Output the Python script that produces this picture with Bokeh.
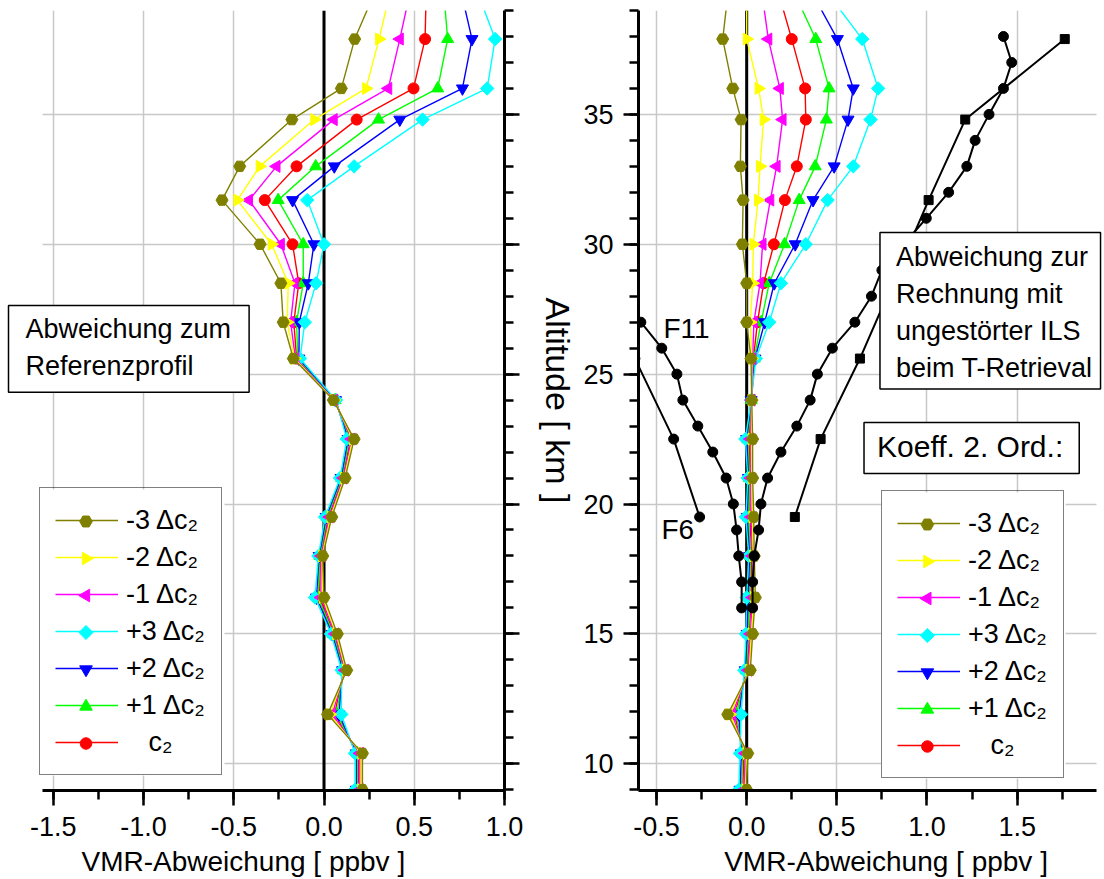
from bokeh.plotting import figure
from bokeh.layouts import row
from bokeh.models import (Range1d, Span, Label, Legend, LegendItem,
                          SingleIntervalTicker, NumeralTickFormatter)
from bokeh.embed import file_html
from bokeh.resources import INLINE

FONT = "Liberation Sans"

# ---------------- data ----------------
altitude = [40.0, 37.9, 36.0, 34.8, 33.0, 31.7, 30.0, 28.5, 27.0, 25.6, 24.0,
            22.5, 21.0, 19.5, 18.0, 16.4, 15.0, 13.6, 11.9, 10.4, 9.0]

# left panel: deviation from reference profile
left_m3 = [0.300, 0.170, 0.096, -0.178, -0.467, -0.565, -0.354, -0.239, -0.226, -0.170, 0.052,
           0.167, 0.117, 0.043, -0.007, 0.000, 0.074, 0.126, 0.020, 0.213, 0.213]
left_m2 = [0.377, 0.305, 0.233, -0.054, -0.356, -0.480, -0.290, -0.198, -0.204, -0.164, 0.055,
           0.160, 0.112, 0.037, -0.011, -0.008, 0.068, 0.121, 0.033, 0.206, 0.206]
left_m1 = [0.486, 0.420, 0.356, 0.054, -0.263, -0.415, -0.239, -0.161, -0.185, -0.158, 0.057,
           0.153, 0.107, 0.031, -0.015, -0.017, 0.062, 0.116, 0.046, 0.199, 0.199]
left_c2 = [0.567, 0.560, 0.496, 0.181, -0.152, -0.328, -0.174, -0.140, -0.167, -0.152, 0.060,
           0.147, 0.103, 0.025, -0.019, -0.025, 0.056, 0.112, 0.058, 0.192, 0.192]
left_p1 = [0.660, 0.685, 0.630, 0.302, -0.046, -0.254, -0.115, -0.115, -0.152, -0.145, 0.062,
           0.140, 0.098, 0.018, -0.023, -0.033, 0.051, 0.107, 0.071, 0.185, 0.185]
left_p2 = [0.750, 0.820, 0.767, 0.420, 0.057, -0.174, -0.056, -0.087, -0.137, -0.139, 0.064,
           0.133, 0.094, 0.012, -0.027, -0.042, 0.045, 0.103, 0.083, 0.179, 0.179]
left_p3 = [0.835, 0.948, 0.904, 0.546, 0.167, -0.093, 0.000, -0.044, -0.106, -0.133, 0.067,
           0.126, 0.089, 0.006, -0.031, -0.050, 0.039, 0.098, 0.096, 0.172, 0.172]

# right panel: deviation from calculation with undisturbed ILS
right_m3 = [-0.098, -0.133, -0.077, -0.031, -0.035, -0.020, -0.024, 0.000, 0.000, 0.024, 0.028,
            0.033, 0.033, 0.039, 0.042, 0.048, 0.033, 0.020, -0.105, 0.006, 0.000]
right_m2 = [0.000, 0.000, 0.066, 0.094, 0.074, 0.063, 0.037, 0.033, 0.020, 0.029, 0.027,
            0.027, 0.028, 0.032, 0.037, 0.040, 0.027, 0.014, -0.093, -0.001, -0.007]
right_m1 = [0.078, 0.120, 0.184, 0.199, 0.166, 0.131, 0.088, 0.074, 0.040, 0.033, 0.027,
            0.020, 0.023, 0.025, 0.032, 0.032, 0.021, 0.009, -0.080, -0.008, -0.015]
right_c2 = [0.163, 0.250, 0.324, 0.328, 0.278, 0.212, 0.151, 0.094, 0.060, 0.037, 0.026,
            0.013, 0.019, 0.018, 0.027, 0.024, 0.015, 0.003, -0.068, -0.015, -0.022]
right_p1 = [0.243, 0.383, 0.457, 0.442, 0.380, 0.291, 0.210, 0.125, 0.080, 0.042, 0.026,
            0.006, 0.015, 0.010, 0.021, 0.016, 0.009, -0.002, -0.056, -0.023, -0.029]
right_p2 = [0.337, 0.503, 0.591, 0.562, 0.485, 0.368, 0.269, 0.153, 0.100, 0.046, 0.025,
            0.000, 0.010, 0.003, 0.016, 0.008, 0.002, -0.008, -0.043, -0.030, -0.037]
right_p3 = [0.412, 0.641, 0.729, 0.687, 0.591, 0.449, 0.328, 0.190, 0.125, 0.051, 0.025,
            -0.007, 0.006, -0.004, 0.011, 0.000, -0.004, -0.013, -0.031, -0.037, -0.044]

# black reference curves (right panel)
f11_alt = [27, 26, 25, 24, 23, 22, 21, 20, 19, 18, 17, 16]
f11_vmr = [-0.587, -0.471, -0.387, -0.354, -0.271, -0.188, -0.114, -0.074, -0.056, -0.044, -0.028, -0.028]
upper_alt = [16, 17, 18, 19, 20, 21, 22, 23, 24, 25, 26, 27, 28, 29, 30, 31, 32, 33, 34, 35, 36, 37, 38]
upper_vmr = [0.033, 0.033, 0.042, 0.066, 0.079, 0.116, 0.190, 0.278, 0.352, 0.392, 0.475, 0.600,
             0.692, 0.750, 0.870, 0.996, 1.120, 1.221, 1.267, 1.344, 1.424, 1.470, 1.424]
f6_alt = [25.6, 22.5, 19.5]
f6_vmr = [-0.620, -0.405, -0.261]
sq_alt = [37.9, 34.8, 31.7, 28.5, 25.6, 22.5, 19.5]
sq_vmr = [1.764, 1.212, 1.009, 0.810, 0.628, 0.410, 0.267]

labels = ["-3 \u0394c\u2082", "-2 \u0394c\u2082", "-1 \u0394c\u2082", "+3 \u0394c\u2082",
          "+2 \u0394c\u2082", "+1 \u0394c\u2082", "\u00a0\u00a0\u00a0c\u2082"]
colors = ["#808000", "#ffff00", "#ff00ff", "#00ffff", "#0000ff", "#00ff00", "#ff0000"]
markers = ["hex", "triangle", "triangle", "square", "inverted_triangle", "triangle", "circle"]
angles = [0.0, -1.5708, 1.5708, 0.7854, 0.0, 0.0, 0.0]
msizes = [12, 12, 12, 9.5, 12, 12, 11]
left_series = [left_m3, left_m2, left_m1, left_p3, left_p2, left_p1, left_c2]
right_series = [right_m3, right_m2, right_m1, right_p3, right_p2, right_p1, right_c2]

# ---------------- layout constants (screen pixels) ----------------
FT, FB = 10, 790
Y0, Y1 = 8.97, 39.0
W1, W2 = 580, 524
L_FL, L_FR = 5, 504                 # left frame (inside left figure)
L_X0 = 1.0 - (L_FR - L_FL) / 180.5
L_X1 = 1.0
R_FL, R_FR = 637, 1102             # right frame (absolute page coordinates)
R_X0 = -0.6
R_X1 = -0.6 + (R_FR - R_FL) / 180.7

LEG_PAD, LEG_GW, LEG_H, LEG_SP, LEG_STAND, LEG_LW = 15, 63, 34, 3, 8, 80
N_ITEMS = 7
LEG_HEIGHT = 2 * LEG_PAD + N_ITEMS * LEG_H + (N_ITEMS - 1) * LEG_SP
LEG_WIDTH = 2 * LEG_PAD + LEG_GW + LEG_STAND + LEG_LW


def lx(px):
    return L_X0 + (px - L_FL) / (L_FR - L_FL) * (L_X1 - L_X0)


def rx(px):
    return R_X0 + (px - R_FL) / (R_FR - R_FL) * (R_X1 - R_X0)


def yv(py):
    return Y0 + (FB - py) / (FB - FT) * (Y1 - Y0)


def style_axes(p):
    for ax in p.axis:
        ax.axis_line_width = 3
        ax.axis_line_color = "black"
        ax.major_tick_line_width = 2.5
        ax.minor_tick_line_width = 2.5
        ax.major_tick_out = 15
        ax.major_tick_in = 0
        ax.minor_tick_out = 9
        ax.minor_tick_in = 0
        ax.major_label_text_font = FONT
        ax.major_label_text_font_size = "27px"
        ax.major_label_text_color = "black"
        ax.axis_label_text_font = FONT
        ax.axis_label_text_font_size = "28px"
        ax.axis_label_text_font_style = "normal"
        ax.axis_label_text_color = "black"
    for g in p.grid:
        g.grid_line_color = "#c8c8c8"
        g.grid_line_width = 1.5


def make_panel(width, xr, bounds, yside, mleft, mright, xtitle):
    p = figure(width=width, height=879, x_range=Range1d(*xr), y_range=Range1d(Y0, Y1),
               output_backend="svg", toolbar_location=None, y_axis_location=yside,
               min_border_left=mleft, min_border_right=mright, min_border_top=FT,
               min_border_bottom=879 - FB)
    p.outline_line_color = None
    p.background_fill_color = "white"
    p.border_fill_color = "white"
    xt = SingleIntervalTicker(interval=0.5, num_minor_ticks=2)
    yt = SingleIntervalTicker(interval=5, num_minor_ticks=5)
    p.xaxis.ticker = xt
    p.yaxis.ticker = yt
    p.xgrid.ticker = xt
    p.ygrid.ticker = yt
    p.xaxis.bounds = bounds
    p.xaxis.formatter = NumeralTickFormatter(format="0.0")
    p.xaxis.axis_label = xtitle
    p.xaxis.major_label_standoff = 11
    p.xaxis.axis_label_standoff = 7
    style_axes(p)
    try:
        p.ygrid.cross_bounds = bounds
    except Exception:
        pass
    p.add_layout(Span(location=0, dimension="height", line_color="black", line_width=3,
                      level="underlay"))
    return p


def legend_background(p, tox, box_left, box_bottom):
    top = box_bottom - LEG_HEIGHT
    p.quad(left=[tox(box_left)], right=[tox(box_left + LEG_WIDTH + 4)],
           top=[yv(top)], bottom=[yv(box_bottom)],
           fill_color="white", line_color=None, level="glyph")


def add_series(p, series):
    rend = {}
    for i in reversed(range(len(series))):
        lr = p.line(series[i], altitude, line_color=colors[i], line_width=1.4)
        p.scatter(series[i], altitude, marker=markers[i], size=msizes[i],
                  angle=angles[i], fill_color=colors[i], line_color=colors[i])
        rend[i] = lr
    return [LegendItem(label=labels[i], renderers=[rend[i]]) for i in range(len(series))]


def make_legend(items, loc):
    lg = Legend(items=items, location=loc, margin=0)
    lg.label_text_font = FONT
    lg.label_text_font_size = "27px"
    lg.label_text_color = "black"
    lg.glyph_width = LEG_GW
    lg.glyph_height = LEG_H
    lg.label_height = LEG_H
    lg.label_width = LEG_LW
    lg.label_standoff = LEG_STAND
    lg.spacing = LEG_SP
    lg.padding = LEG_PAD
    lg.border_line_color = "black"
    lg.border_line_width = 1.5
    lg.background_fill_alpha = 0.0
    return lg


def legend_overlay(p, tox, box_left, box_bottom):
    # Origin-style legend symbols: line with a gap, marker (possibly rotated) in the middle
    top = box_bottom - LEG_HEIGHT
    gx0 = box_left + LEG_PAD
    cx = gx0 + LEG_GW / 2
    for i in range(N_ITEMS):
        cy = top + LEG_PAD + LEG_H / 2 + i * (LEG_H + LEG_SP)
        p.quad(left=[tox(cx - 11.5)], right=[tox(cx + 11.5)], top=[yv(cy - 3)],
               bottom=[yv(cy + 3)], fill_color="white", line_color=None, level="overlay")
        p.scatter([tox(cx)], [yv(cy)], marker=markers[i], size=msizes[i] * 1.05,
                  angle=angles[i], fill_color=colors[i], line_color=colors[i],
                  level="overlay")


def box_label(x, y, text, size, lh, pad):
    kw = dict(x=x, y=y, text=text, text_font=FONT, text_font_size=size,
              text_align="left", text_baseline="top", anchor="top_left",
              text_line_height=lh, border_line_color="black",
              border_line_width=1.5, background_fill_color="white",
              background_fill_alpha=1.0, text_color="black")
    try:
        return Label(padding=dict(left=pad[0], right=pad[1], top=pad[2], bottom=pad[3]), **kw)
    except Exception:
        return Label(padding=10, **kw)


NB = "\u00a0"

# ---------------- left panel ----------------
p1 = make_panel(W1, (L_X0, L_X1), (-1.56, 1.0), "right", L_FL, W1 - L_FR,
                "VMR-Abweichung [ ppbv ]" + NB * 3)
p1.yaxis.axis_label = "Altitude [ km ]"
p1.yaxis.axis_label_text_font_size = "34px"
p1.yaxis.major_label_text_font_size = "1px"
p1.yaxis.major_label_text_color = None
p1.yaxis.axis_label_standoff = 19
legend_background(p1, lx, 39, 775)
items1 = add_series(p1, left_series)
p1.add_layout(box_label(lx(8), yv(305), "Abweichung zum\nReferenzprofil", "27px", 1.26,
                        (17, 18, 8, 11)))
p1.add_layout(make_legend(items1, (39 - L_FL, FB - 775)))
legend_overlay(p1, lx, 39, 775)

# ---------------- right panel ----------------
p2 = make_panel(W2, (R_X0, R_X1), (-0.6, 1.94), "left", R_FL - W1, W1 + W2 - R_FR,
                NB * 4 + "VMR-Abweichung [ ppbv ]")
p2.yaxis.major_label_standoff = 10
legend_background(p2, rx, 880, 778)
items2 = add_series(p2, right_series)
p2.line(f11_vmr, f11_alt, line_color="black", line_width=2)
p2.scatter(f11_vmr, f11_alt, marker="circle", size=10, color="black")
p2.line(upper_vmr, upper_alt, line_color="black", line_width=2)
p2.scatter(upper_vmr, upper_alt, marker="circle", size=10, color="black")
p2.line(f6_vmr, f6_alt, line_color="black", line_width=2)
p2.scatter(f6_vmr, f6_alt, marker="circle", size=10, color="black")
p2.line(sq_vmr, sq_alt, line_color="black", line_width=2)
p2.scatter(sq_vmr, sq_alt, marker="square", size=9, color="black")

p2.add_layout(Label(x=rx(662), y=yv(328), text="F11", text_font=FONT, text_font_size="28px",
                    text_baseline="middle", text_align="left", text_color="black"))
p2.add_layout(Label(x=rx(660), y=yv(529), text="F6", text_font=FONT, text_font_size="28px",
                    text_baseline="middle", text_align="left", text_color="black"))
p2.add_layout(box_label(rx(879), yv(232),
                        "Abweichung zur\nRechnung mit\nungest\u00f6rter ILS\nbeim T-Retrieval",
                        "27px", 1.24, (16, 8, 9, 6)))
p2.add_layout(box_label(rx(863), yv(422), "Koeff. 2. Ord.:", "30px", 1.2, (13, 16, 7, 11)))
p2.add_layout(make_legend(items2, (880 - R_FL, FB - 778)))
legend_overlay(p2, rx, 880, 778)

layout = row(p1, p2)
open("out.html", "w").write(file_html(layout, INLINE))
